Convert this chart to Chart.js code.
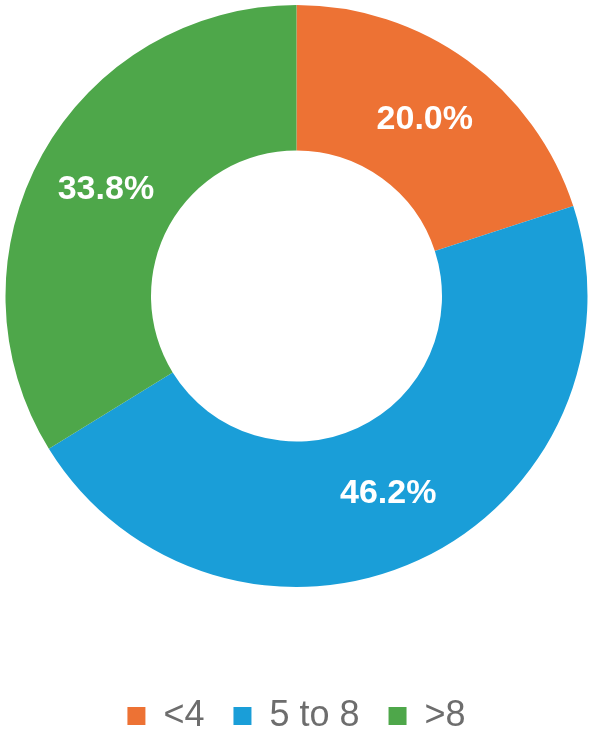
<!DOCTYPE html>
<html>
<head>
<meta charset="utf-8">
<script src="https://cdn.jsdelivr.net/npm/chart.js@4"></script>
<style>
    html, body { margin: 0; padding: 0; background: #ffffff; }
    #wrap { width: 593px; height: 732px; }
</style>
</head>
<body>
<div id="wrap"><canvas id="donut"></canvas></div>
<script>
const categories = ['<4', '5 to 8', '>8'];
const shares = [20.0, 46.2, 33.8];
const sliceColors = ['#ED7234', '#1A9ED8', '#4EA74A'];

// writes the percentage in the middle of each ring segment
const sliceLabels = {
    id: 'sliceLabels',
    afterDatasetsDraw: function(chart) {
        const ctx = chart.ctx;
        const meta = chart.getDatasetMeta(0);
        ctx.save();
        ctx.fillStyle = '#ffffff';
        ctx.font = 'bold 34px "Liberation Sans", Arial, sans-serif';
        ctx.textAlign = 'center';
        ctx.textBaseline = 'middle';
        meta.data.forEach(function(arc, i) {
            const pos = arc.tooltipPosition();
            ctx.fillText(shares[i].toFixed(1) + '%', pos.x, pos.y);
        });
        ctx.restore();
    }
};

const donutOptions = {
    responsive: true,
    maintainAspectRatio: false,
    animation: false,
    cutout: '50%',
    layout: {
        padding: { top: 5, left: 5, right: 5, bottom: 0 }
    },
    plugins: {
        // empty title used only as a gap between ring and legend
        title: {
            display: true,
            text: '',
            position: 'bottom',
            weight: 500,
            font: { size: 1, lineHeight: 1 },
            padding: { top: 81, bottom: 0 }
        },
        legend: {
            position: 'bottom',
            maxHeight: 63,
            labels: {
                boxWidth: 18,
                boxHeight: 18,
                padding: 29,
                color: '#6d6d6d',
                font: { family: '"Liberation Sans", Arial, sans-serif', size: 36 }
            }
        },
        tooltip: {
            enabled: false
        }
    }
};

function createDonut() {
    const ctx = document.querySelector('#donut').getContext('2d');

    new Chart(ctx, {
        type: 'doughnut',
        data: {
            labels: categories,
            datasets: [
                {
                    data: shares,
                    backgroundColor: sliceColors,
                    borderWidth: 0
                }
            ]
        },
        options: donutOptions,
        plugins: [sliceLabels]
    });
}

createDonut();
</script>
</body>
</html>
